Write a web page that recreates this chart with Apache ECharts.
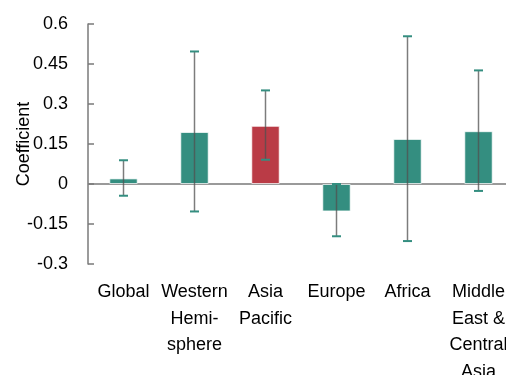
<!DOCTYPE html>
<html><head><meta charset="utf-8">
<script src="https://cdn.jsdelivr.net/npm/echarts@6/dist/echarts.min.js"></script>
<style>html,body{margin:0;padding:0;background:#fff}#c{width:506px;height:375px}</style>
</head><body><div id="c"></div>
<script>
const categories = ['Global', 'Western\nHemi-\nsphere', 'Asia\nPacific', 'Europe', 'Africa', 'Middle\nEast &\nCentral\nAsia'];
const coefficients = [0.021, 0.195, 0.218, -0.103, 0.169, 0.198];
const upperBounds = [0.089, 0.497, 0.351, 0.0, 0.554, 0.426];
const lowerBounds = [-0.044, -0.103, 0.091, -0.196, -0.214, -0.026];
const highlighted = [false, false, true, false, false, false];
const yTickLabels = ['-0.3', '-0.15', '0', '0.15', '0.3', '0.45', '0.6'];

const TEAL = '#348e80', RED = '#ba3b46';
const font = 'Liberation Sans, Arial, sans-serif';

const chart = echarts.init(document.getElementById('c'), null, {renderer: 'canvas'});
chart.setOption({
  animation: false,
  grid: {left: 88, right: -8, top: 24, bottom: 111, containLabel: false, outerBoundsMode: 'none'},
  xAxis: {
    type: 'category', data: categories,
    axisLine: {onZero: true, lineStyle: {color: '#9a9a9a', width: 2}},
    axisTick: {show: false},
    axisLabel: {margin: 15, color: '#000', fontFamily: font, fontSize: 18, lineHeight: 26.5, interval: 0}
  },
  yAxis: {
    type: 'value', min: -0.3, max: 0.6, interval: 0.15,
    name: 'Coefficient', nameLocation: 'middle', nameRotate: 90, nameGap: 55,
    nameMoveOverlap: false,
    nameTextStyle: {color: '#000', fontFamily: font, fontSize: 18},
    axisLine: {show: true, lineStyle: {color: '#7a7a7a', width: 1.5}},
    axisTick: {show: true, inside: true, length: 6, lineStyle: {color: '#7a7a7a', width: 1.5}},
    splitLine: {show: false},
    axisLabel: {margin: 20, color: '#000', fontFamily: font, fontSize: 18,
      formatter: function (v) { const i = Math.round((v + 0.3) / 0.15); return yTickLabels[i]; }}
  },
  series: [
    {
      type: 'bar', barWidth: '40%',
      data: coefficients.map((v, i) => ({value: v, itemStyle: {color: highlighted[i] ? RED : TEAL}})),
      itemStyle: {borderColor: 'rgba(255,255,255,0.7)', borderWidth: 1}
    },
    {
      type: 'custom', z: 5,
      data: categories.map((c, i) => [i, lowerBounds[i], upperBounds[i]]),
      renderItem: function (params, api) {
        const i = api.value(0);
        const lo = api.coord([i, api.value(1)]);
        const hi = api.coord([i, api.value(2)]);
        const x = lo[0], hw = 4.5;
        return {type: 'group', children: [
          {type: 'line', shape: {x1: x, y1: hi[1], x2: x, y2: lo[1]}, style: {stroke: 'rgba(80,80,80,0.75)', lineWidth: 1.5}},
          {type: 'line', shape: {x1: x - hw, y1: hi[1], x2: x + hw, y2: hi[1]}, style: {stroke: TEAL, lineWidth: 2}},
          {type: 'line', shape: {x1: x - hw, y1: lo[1], x2: x + hw, y2: lo[1]}, style: {stroke: TEAL, lineWidth: 2}}
        ]};
      }
    }
  ]
});
</script></body></html>
